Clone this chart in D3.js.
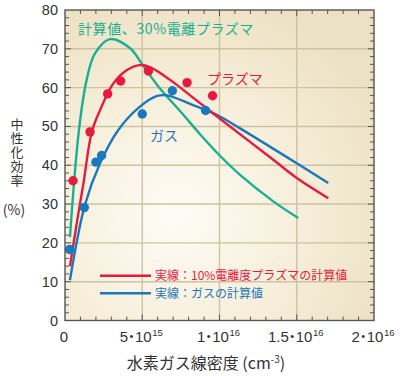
<!DOCTYPE html>
<html>
<head>
<meta charset="utf-8">
<script src="https://cdn.jsdelivr.net/npm/d3@7"></script>
<style>
  html, body { margin: 0; padding: 0; background: #fff; }
  #chart { width: 400px; height: 376px; }
  text { font-family: "Liberation Sans", Arial, sans-serif; }
  .jp { font-family: "Noto Sans CJK JP", sans-serif; }
  .vert { writing-mode: vertical-rl; }
</style>
</head>
<body>
<div id="chart"></div>
<script>
// x values are in units of 10^15 cm^-3, y values in %
var xTicks      = [0, 5, 10, 15, 20];
var xTickLabels = [['0', null], ['5', '15'], ['1', '16'], ['1.5', '16'], ['2', '16']];
var yTicks      = [0, 10, 20, 30, 40, 50, 60, 70, 80];

// measured points
var plasmaPoints = [[0.52, 36], [1.62, 48.6], [2.76, 58.4], [3.6, 61.7], [5.4, 64.3], [7.9, 61.3], [9.55, 57.9]];
var gasPoints    = [[0.3, 18.3], [1.25, 29.1], [2.0, 40.8], [2.37, 42.5], [5.0, 53.2], [6.95, 59.2], [9.1, 54.1]];

// calculated curves
var calc30Curve = [[0.32, 21.5], [0.9, 49], [1.4, 62], [1.94, 68.8], [2.9, 72.5], [4.2, 70.2], [5.0, 66],
                   [6.0, 60.5], [7.66, 53], [8.74, 48], [9.97, 42.7], [11.33, 37.5], [13.48, 30.7], [15.1, 26.4]];
var calc10Curve = [[0.32, 14], [0.8, 26], [1.2, 35.5], [1.73, 48.5], [2.27, 54.2], [3.13, 61.1], [3.99, 64.5],
                   [4.85, 65.8], [5.5, 65.3], [6.8, 62], [8.74, 56], [10.68, 50], [13.48, 41.4], [15, 36.7], [17.04, 31.5]];
var gasCurve    = [[0.32, 10.4], [1.29, 29.8], [2.27, 40.5], [3.45, 49.1], [4.85, 55.1], [5.93, 57.8], [6.6, 58],
                   [8.1, 55.8], [9.82, 53], [11.33, 49.5], [15, 40.5], [17.04, 35.4]];

var labels = {
  calc30 : '計算値、30%電離プラズマ',
  plasma : 'プラズマ',
  gas    : 'ガス',
  legend10 : '実線：10%電離度プラズマの計算値',
  legendGas : '実線：ガスの計算値',
  yTitle : '中性化効率',
  xTitle : '水素ガス線密度'
};

var colors = { green: '#17b090', red: '#e8193f', blue: '#1a78bd', grid: '#cdc2a2', axis: '#555', text: '#333' };

var Chart = function(element) {
  var _this = this;
  _this.element = document.querySelector(element);
  _this.width  = 400;
  _this.height = 376;
  _this.box = { left: 65, right: 374, top: 10, bottom: 320.5 };
  _this.draw();
};

Chart.prototype.draw = function() {
  var _this = this,
      box   = _this.box;

  var svg = d3.select(_this.element)
              .append('svg')
              .attr('width', _this.width)
              .attr('height', _this.height);

  var x = d3.scaleLinear().domain([0, 20]).range([box.left, box.right]);
  var y = d3.scaleLinear().domain([0, 80]).range([box.bottom, box.top]);

  var defs = svg.append('defs');
  var grad = defs.append('radialGradient')
                 .attr('id', 'bg')
                 .attr('gradientUnits', 'userSpaceOnUse')
                 .attr('cx', 175).attr('cy', 215).attr('r', 230);
  grad.append('stop').attr('offset', '0%').attr('stop-color', '#fefcf6');
  grad.append('stop').attr('offset', '45%').attr('stop-color', '#f8f1df');
  grad.append('stop').attr('offset', '100%').attr('stop-color', '#ede1c3');

  defs.append('clipPath').attr('id', 'clip')
      .append('rect')
      .attr('x', box.left).attr('y', box.top)
      .attr('width', box.right - box.left).attr('height', box.bottom - box.top);

  svg.append('rect')
     .attr('x', box.left).attr('y', box.top)
     .attr('width', box.right - box.left).attr('height', box.bottom - box.top)
     .attr('fill', 'url(#bg)');

  // grid lines
  var grid = svg.append('g').attr('class', 'grid');
  grid.selectAll('.gx')
      .data(xTicks.slice(1, -1))
      .enter().append('line')
      .attr('x1', function(d) { return x(d); }).attr('x2', function(d) { return x(d); })
      .attr('y1', box.top).attr('y2', box.bottom)
      .attr('stroke', colors.grid).attr('stroke-width', 1.4);
  grid.selectAll('.gy')
      .data(yTicks.slice(1, -1))
      .enter().append('line')
      .attr('y1', function(d) { return y(d); }).attr('y2', function(d) { return y(d); })
      .attr('x1', box.left).attr('x2', box.right)
      .attr('stroke', colors.grid).attr('stroke-width', 1.4);

  // minor ticks on all four sides
  var ticks = svg.append('g').attr('stroke', colors.axis).attr('stroke-width', 1);
  var xMinor = d3.range(1, 20), yMinor = d3.range(2, 80, 2);
  [box.bottom, box.top].forEach(function(edge, i) {
    var dir = i === 0 ? -1 : 1;
    ticks.selectAll(null).data(xMinor).enter().append('line')
         .attr('x1', function(d) { return x(d); }).attr('x2', function(d) { return x(d); })
         .attr('y1', edge).attr('y2', function(d) { return edge + dir * (d % 5 === 0 ? 6 : 4); });
  });
  [box.left, box.right].forEach(function(edge, i) {
    var dir = i === 0 ? 1 : -1;
    ticks.selectAll(null).data(yMinor).enter().append('line')
         .attr('y1', function(d) { return y(d); }).attr('y2', function(d) { return y(d); })
         .attr('x1', edge).attr('x2', function(d) { return edge + dir * (d % 10 === 0 ? 6 : 4); });
  });

  // curves
  var line = d3.line()
               .x(function(d) { return x(d[0]); })
               .y(function(d) { return y(d[1]); })
               .curve(d3.curveCatmullRom.alpha(0.5));

  var curves = svg.append('g').attr('clip-path', 'url(#clip)').attr('fill', 'none').attr('stroke-width', 2.4);
  curves.append('path').datum(calc30Curve).attr('d', line).attr('stroke', colors.green);
  curves.append('path').datum(gasCurve).attr('d', line).attr('stroke', colors.blue);
  curves.append('path').datum(calc10Curve).attr('d', line).attr('stroke', colors.red);

  // measured points
  svg.append('g').selectAll('circle')
     .data(gasPoints).enter().append('circle')
     .attr('cx', function(d) { return x(d[0]); })
     .attr('cy', function(d) { return y(d[1]); })
     .attr('r', 4.7).attr('fill', colors.blue);
  svg.append('g').selectAll('circle')
     .data(plasmaPoints).enter().append('circle')
     .attr('cx', function(d) { return x(d[0]); })
     .attr('cy', function(d) { return y(d[1]); })
     .attr('r', 4.7).attr('fill', colors.red);

  // frame
  svg.append('rect')
     .attr('x', box.left).attr('y', box.top)
     .attr('width', box.right - box.left).attr('height', box.bottom - box.top)
     .attr('fill', 'none').attr('stroke', colors.axis).attr('stroke-width', 1.4);

  // y tick labels
  svg.append('g').selectAll('text')
     .data(yTicks).enter().append('text')
     .attr('x', 58).attr('y', function(d) { return y(d) + 5; })
     .attr('text-anchor', 'end')
     .attr('font-size', 14.5).attr('fill', colors.text)
     .text(function(d) { return d; });

  // x tick labels as base•10^exp
  var xl = svg.append('g').selectAll('text')
              .data(xTicks).enter().append('text')
              .attr('x', function(d) { return x(d) - 1; })
              .attr('y', 341.5)
              .attr('text-anchor', 'middle')
              .attr('font-size', 15).attr('fill', colors.text);
  xl.each(function(d, i) {
    var t = d3.select(this), lab = xTickLabels[i];
    t.append('tspan').text(lab[0]);
    if (lab[1]) {
      t.append('tspan').attr('dx', 1.5).attr('font-size', 11).attr('dy', -1.5).text('•');
      t.append('tspan').attr('dx', 1.5).attr('dy', 1.5).text('10');
      t.append('tspan').attr('font-size', 9.5).attr('dy', -6).attr('dx', 0.5).text(lab[1]);
    }
  });

  // axis titles (y title set vertically as one text)
  svg.append('text')
     .attr('class', 'jp vert')
     .attr('x', 17).attr('y', 118)
     .attr('font-size', 13).attr('letter-spacing', 0.8).attr('fill', colors.text)
     .text(labels.yTitle);
  svg.append('text')
     .attr('class', 'jp')
     .attr('x', 14).attr('y', 215)
     .attr('text-anchor', 'middle')
     .attr('font-size', 14).attr('fill', colors.text)
     .text('(%)');

  var xt = svg.append('text')
              .attr('class', 'jp')
              .attr('x', 206).attr('y', 369)
              .attr('text-anchor', 'middle')
              .attr('font-size', 16).attr('fill', colors.text);
  xt.append('tspan').text(labels.xTitle + ' (cm');
  xt.append('tspan').attr('font-size', 10).attr('dy', -6).text('-3');
  xt.append('tspan').attr('dy', 6).text(')');

  // in-chart labels
  svg.append('text').attr('class', 'jp')
     .attr('x', 78).attr('y', 34)
     .attr('font-size', 14).attr('letter-spacing', 0.6).attr('fill', colors.green)
     .text(labels.calc30);
  svg.append('text').attr('class', 'jp')
     .attr('x', 207).attr('y', 84)
     .attr('font-size', 14).attr('fill', colors.red)
     .text(labels.plasma);
  svg.append('text').attr('class', 'jp')
     .attr('x', 150).attr('y', 141)
     .attr('font-size', 14).attr('fill', colors.blue)
     .text(labels.gas);

  // legend
  var legend = [[labels.legend10, colors.red, 275.7], [labels.legendGas, colors.blue, 293.3]];
  var lg = svg.append('g').selectAll('g').data(legend).enter().append('g');
  lg.append('line')
    .attr('x1', 100).attr('x2', 151)
    .attr('y1', function(d) { return d[2]; }).attr('y2', function(d) { return d[2]; })
    .attr('stroke', function(d) { return d[1]; }).attr('stroke-width', 2.4);
  lg.append('text').attr('class', 'jp')
    .attr('x', 155).attr('y', function(d) { return d[2] + 4.5; })
    .attr('font-size', 12).attr('fill', function(d) { return d[1]; })
    .text(function(d) { return d[0]; });
};

new Chart('#chart');
</script>
</body>
</html>
